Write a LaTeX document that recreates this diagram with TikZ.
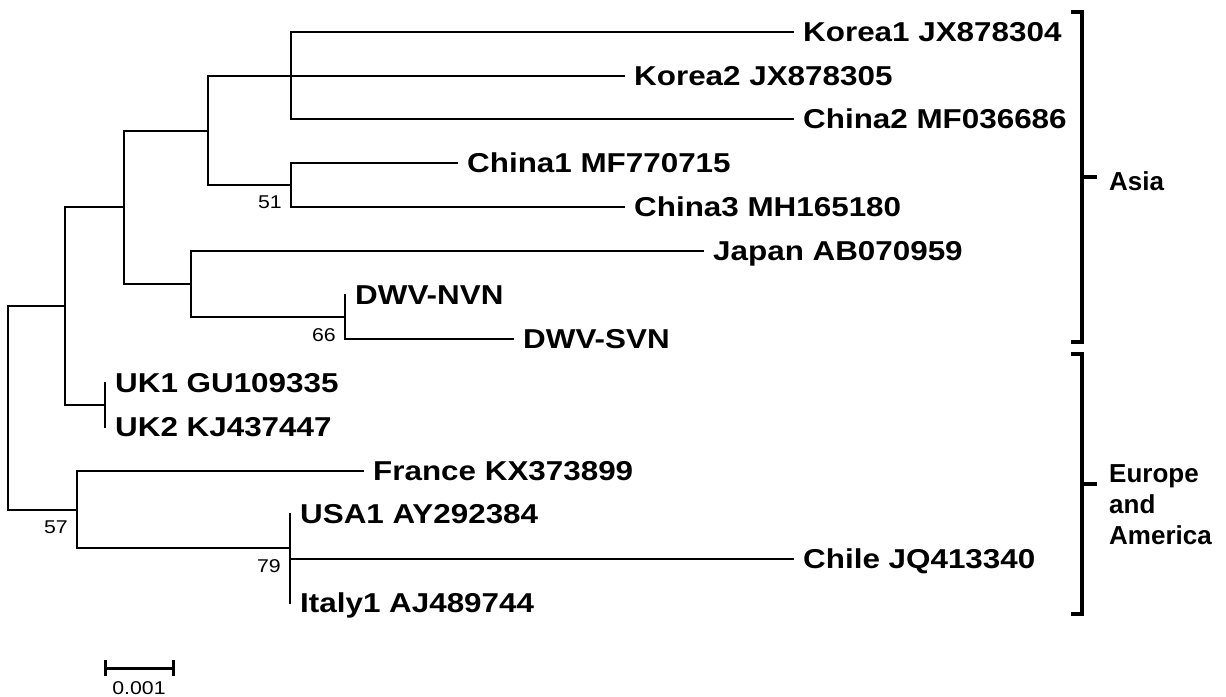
\documentclass[tikz,border=0pt]{standalone}
\usepackage{fontspec}
\setmainfont{Liberation Sans}
\newfontfamily\tipfont[FakeStretch=1.15]{Liberation Sans}
\usetikzlibrary{positioning}

\begin{document}
\begin{tikzpicture}[
    x=1pt,y=-1pt,
    br/.style={line width=2.2pt,line join=miter,line cap=rect},
    tip/.style={anchor=west,inner xsep=10pt,inner ysep=0pt,text height=19.3pt,text depth=0pt,font=\tipfont\bfseries\fontsize{27.3pt}{31pt}\selectfont},
    boot/.style={inner sep=0pt,font=\tipfont\fontsize{18.5pt}{21pt}\selectfont},
    grp/.style={line width=3.5pt,line join=miter},
    region/.style={anchor=north west,inner sep=0pt,align=left,font=\bfseries\fontsize{26pt}{31pt}\selectfont}
]
\useasboundingbox (0,0) rectangle (1226,696);

\node[tip] (korea1) at (793,32) {Korea1 JX878304};
\node[tip] (korea2) at (624,76) {Korea2 JX878305};
\node[tip] (china2) at (793,119) {China2 MF036686};
\node[tip] (china1) at (457,163) {China1 MF770715};
\node[tip] (china3) at (624,207) {China3 MH165180};
\node[tip] (japan) at (703,251) {Japan AB070959};
\node[tip] (dwvn) at (345,295) {DWV-NVN};
\node[tip] (dwvs) at (513,339) {DWV-SVN};
\node[tip] (uk1) at (105,383) {UK1 GU109335};
\node[tip] (uk2) at (105,427) {UK2 KJ437447};
\node[tip] (france) at (363,471) {France KX373899};
\node[tip] (usa1) at (290,514) {USA1 AY292384};
\node[tip] (chile) at (793,559) {Chile JQ413340};
\node[tip] (italy1) at (290,603) {Italy1 AJ489744};

\coordinate (nkor) at (291,76);
\coordinate (nchn) at (291,185);
\coordinate (nasia) at (208,131);
\coordinate (njap) at (191,284);
\coordinate (ndwv) at (345,317);
\coordinate (neast) at (124,207);
\coordinate (nuk) at (105,405);
\coordinate (nold) at (65,306);
\coordinate (nusa) at (290,548);
\coordinate (nwest) at (77,510);
\coordinate (root) at (8,408);

\foreach \a/\b in {nkor/korea1.west,nkor/korea2.west,nkor/china2.west,
    nchn/china1.west,nchn/china3.west,nasia/nkor,nasia/nchn,
    ndwv/dwvn.west,ndwv/dwvs.west,njap/japan.west,njap/ndwv,
    neast/nasia,neast/njap,nuk/uk1.west,nuk/uk2.west,nold/neast,nold/nuk,
    nusa/usa1.west,nusa/chile.west,nusa/italy1.west,nwest/france.west,nwest/nusa,
    root/nold,root/nwest}
    \draw[br] (\a) |- (\b);

\node[boot,below left=11pt and 9pt of nchn] (b51) {51};
\node[boot,below left=11pt and 9pt of ndwv] (b66) {66};
\node[boot,below left=11pt and 9pt of nwest] (b57) {57};
\node[boot,below left=11pt and 9pt of nusa] (b79) {79};

\coordinate (sb1) at (105,668);
\coordinate (sb2) at (173,668);
\coordinate (sbm) at (139,668);
\draw[line width=3pt] (sb1) -- (sb2);
\draw[line width=3pt] ([yshift=8pt]sb1) -- ([yshift=-8pt]sb1);
\draw[line width=3pt] ([yshift=8pt]sb2) -- ([yshift=-8pt]sb2);
\node[boot,below=13pt of sbm] (sblabel) {0.001};

\draw[grp] (1071,12) -| (1082,342) -- (1071,342);
\draw[grp] (1082,177) -- (1097,177);
\node[region] (asia) at (1109,171) {Asia};
\draw[grp] (1071,354) -| (1082,614) -- (1071,614);
\draw[grp] (1082,484) -- (1097,484);
\node[region] (euam) at (1109,464) {Europe\\and\\America};
\end{tikzpicture}
\end{document}
